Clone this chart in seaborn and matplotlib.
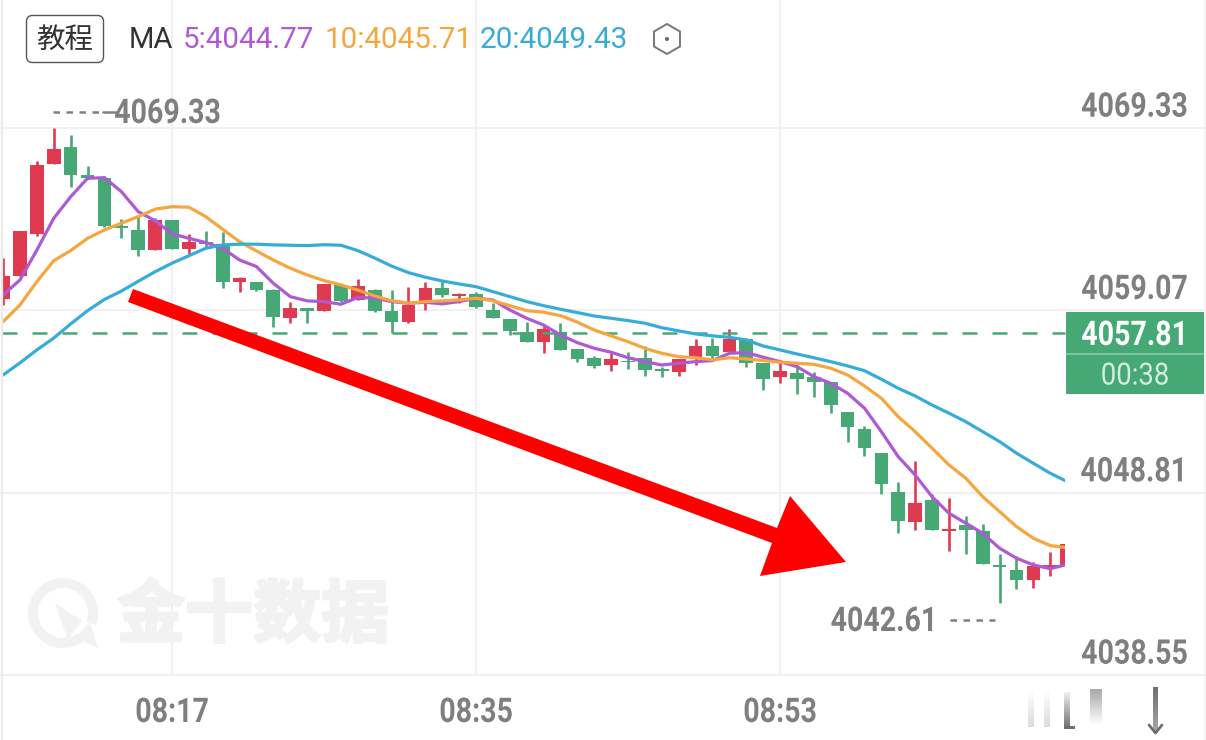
import numpy as np
import pandas as pd
import matplotlib
matplotlib.use("Agg")
import matplotlib.pyplot as plt
import seaborn as sns
from matplotlib.patches import Rectangle, FancyBboxPatch, Polygon, RegularPolygon, Wedge, Circle
from matplotlib.patheffects import AbstractPathEffect, withStroke
from matplotlib.transforms import Affine2D

# 1 minute candles, 08:07 to 09:10
opens = [4059.71, 4061.02, 4063.37, 4067.32, 4068.26, 4066.67, 4066.53, 4063.83, 4063.59, 4062.46,
         4064.15, 4062.50, 4062.90, 4062.80, 4060.65, 4060.68, 4060.21, 4058.66, 4059.18, 4059.02,
         4060.51, 4059.65, 4060.21, 4059.05, 4058.43, 4059.47, 4060.31, 4059.89, 4059.99, 4059.09,
         4058.58, 4057.87, 4057.30, 4057.87, 4056.89, 4056.37, 4055.99, 4056.24, 4056.37, 4055.75,
         4055.62, 4056.46, 4057.06, 4056.71, 4057.44, 4056.09, 4055.34, 4055.53, 4055.30, 4055.02,
         4053.37, 4052.39, 4051.03, 4048.85, 4047.16, 4048.40, 4046.64, 4046.99, 4046.64, 4044.72,
         4044.46, 4043.91, 4044.64, 4044.74]
closes = [4061.02, 4063.53, 4067.25, 4068.15, 4066.70, 4066.53, 4063.82, 4063.72, 4062.46, 4064.15,
          4062.52, 4062.92, 4062.82, 4060.68, 4060.89, 4060.21, 4058.69, 4059.20, 4059.05, 4060.55,
          4059.61, 4060.46, 4059.05, 4058.41, 4059.37, 4060.31, 4059.93, 4059.99, 4059.24, 4058.62,
          4057.91, 4057.30, 4058.00, 4056.84, 4056.35, 4055.95, 4056.35, 4056.16, 4055.71, 4055.66,
          4056.35, 4057.06, 4056.50, 4057.44, 4056.09, 4055.19, 4055.64, 4055.22, 4055.04, 4053.74,
          4052.51, 4051.34, 4049.31, 4047.23, 4048.21, 4046.71, 4046.77, 4046.71, 4044.78, 4044.61,
          4043.88, 4044.67, 4044.74, 4045.90]
highs = [4062.01, 4063.53, 4067.49, 4069.33, 4068.94, 4067.19, 4066.63, 4064.19, 4064.43, 4064.27,
         4064.15, 4063.37, 4063.53, 4063.49, 4060.95, 4060.68, 4060.27, 4059.54, 4059.18, 4060.55,
         4060.51, 4060.82, 4060.25, 4060.21, 4060.37, 4060.68, 4060.74, 4060.03, 4060.08, 4059.47,
         4058.58, 4058.40, 4058.24, 4058.34, 4056.89, 4056.52, 4056.65, 4056.74, 4057.08, 4055.86,
         4056.35, 4057.44, 4057.50, 4058.02, 4057.50, 4056.09, 4056.09, 4055.99, 4055.58, 4055.02,
         4053.37, 4052.54, 4051.03, 4049.41, 4050.61, 4048.74, 4048.49, 4047.50, 4047.03, 4045.38,
         4045.25, 4044.93, 4045.45, 4045.95]
lows = [4059.37, 4061.02, 4063.27, 4067.32, 4066.01, 4066.46, 4063.76, 4063.14, 4062.13, 4062.46,
        4062.52, 4062.24, 4062.65, 4060.33, 4060.12, 4060.16, 4058.15, 4058.37, 4058.37, 4059.02,
        4059.54, 4059.65, 4058.99, 4057.81, 4058.34, 4059.09, 4059.84, 4059.47, 4059.22, 4058.62,
        4057.67, 4057.30, 4056.69, 4056.84, 4056.15, 4055.84, 4055.66, 4055.75, 4055.39, 4055.30,
        4055.38, 4055.99, 4056.37, 4056.71, 4055.86, 4054.59, 4055.00, 4054.35, 4054.21, 4053.28,
        4051.68, 4050.89, 4048.74, 4046.54, 4046.71, 4046.71, 4045.54, 4045.38, 4044.78, 4042.61,
        4043.37, 4043.43, 4044.12, 4044.74]

ma5 = [4059.93, 4060.78, 4062.46, 4064.25, 4065.46, 4066.50, 4066.53, 4065.75, 4064.62, 4064.11,
       4063.37, 4063.12, 4062.88, 4062.56, 4061.90, 4061.53, 4060.59, 4059.84, 4059.60, 4059.56,
       4059.41, 4059.79, 4059.76, 4059.56, 4059.47, 4059.52, 4059.43, 4059.56, 4059.75, 4059.65,
       4059.09, 4058.62, 4058.24, 4057.68, 4057.25, 4056.93, 4056.71, 4056.40, 4056.18, 4055.99,
       4056.09, 4056.18, 4056.24, 4056.65, 4056.69, 4056.43, 4056.18, 4055.90, 4055.34, 4054.96,
       4054.40, 4053.56, 4052.24, 4050.83, 4049.80, 4048.58, 4047.65, 4047.09, 4046.52, 4045.68,
       4045.12, 4044.74, 4044.53, 4044.77]
ma10 = [4058.43, 4059.37, 4060.68, 4061.86, 4062.43, 4063.12, 4063.59, 4063.97, 4064.34, 4064.76,
        4064.90, 4064.87, 4064.34, 4063.63, 4062.93, 4062.41, 4061.90, 4061.44, 4061.06, 4060.74,
        4060.50, 4060.21, 4059.88, 4059.61, 4059.47, 4059.56, 4059.60, 4059.65, 4059.75, 4059.61,
        4059.33, 4059.05, 4058.96, 4058.77, 4058.40, 4057.96, 4057.63, 4057.30, 4056.93, 4056.65,
        4056.46, 4056.40, 4056.28, 4056.40, 4056.33, 4056.24, 4056.15, 4056.09, 4056.03, 4055.81,
        4055.43, 4054.81, 4054.12, 4053.08, 4052.24, 4051.31, 4050.37, 4049.62, 4048.58, 4047.74,
        4046.90, 4046.24, 4045.83, 4045.71]
ma20 = [4055.43, 4056.11, 4056.84, 4057.51, 4058.30, 4059.05, 4059.68, 4060.15, 4060.70, 4061.24,
        4061.72, 4062.14, 4062.56, 4062.75, 4062.79, 4062.79, 4062.75, 4062.73, 4062.71, 4062.76,
        4062.73, 4062.43, 4062.01, 4061.56, 4061.19, 4060.93, 4060.72, 4060.55, 4060.40, 4060.12,
        4059.84, 4059.56, 4059.33, 4059.13, 4058.94, 4058.75, 4058.62, 4058.49, 4058.34, 4058.09,
        4057.91, 4057.74, 4057.63, 4057.55, 4057.40, 4057.06, 4056.84, 4056.61, 4056.40, 4056.18,
        4055.94, 4055.67, 4055.19, 4054.68, 4054.25, 4053.74, 4053.28, 4052.80, 4052.24, 4051.68,
        4051.03, 4050.46, 4049.90, 4049.43]

price_ticks = [4069.33, 4059.07, 4048.81, 4038.55]
time_pos = [10, 28, 46]
time_labels = ["08:17", "08:35", "08:53"]
last_price = 4057.81
countdown = "00:38"
max_price = 4069.33
min_price = 4042.61

RED = "#e03a50"
GREEN = "#46a874"
GREY = "#7f7f7f"
GRID = "#f0f0f0"
PURPLE = "#ae5ad6"
ORANGE = "#f5a63e"
BLUE = "#38acd9"


class Squeeze(AbstractPathEffect):
    # narrows a label horizontally, the app font is a condensed one
    def __init__(self, sx, anchor="right"):
        super().__init__()
        self.sx = sx
        self.anchor = anchor

    def draw_path(self, renderer, gc, tpath, affine, rgbFace=None):
        ext = tpath.get_extents()
        xa = {"right": ext.x1, "left": ext.x0, "center": (ext.x0 + ext.x1) / 2}[self.anchor]
        t = Affine2D().translate(-xa, 0).scale(self.sx, 1).translate(xa, 0) + affine
        renderer.draw_path(gc, tpath, t, rgbFace)


sns.set_theme(style="white")
plt.rcParams["font.family"] = ["Roboto", "Noto Sans CJK SC", "DejaVu Sans"]
LABEL = dict(fontsize=24.5, color=GREY, fontweight="bold", va="center")

fig = plt.figure(figsize=(12.06, 7.4), dpi=100, facecolor="white")
ax = fig.add_axes([0, 0, 1, 1])
ax.set_xlim(-0.1835, 71.22)
ax.set_ylim(4034.89, 4076.53)
ax.axis("off")

# grid
for p in price_ticks:
    ax.axhline(p, color=GRID, lw=1.3, zorder=0)
for t in time_pos:
    ax.plot([t, t], [price_ticks[-1], ax.get_ylim()[1]], color=GRID, lw=1.3, zorder=0)

# candles
df = pd.DataFrame({"x": np.arange(len(opens)), "o": opens, "c": closes, "h": highs, "l": lows})
df["color"] = np.where(df["c"] >= df["o"], RED, GREEN)
wicks = ax.vlines(df["x"], df["l"], df["h"], colors=df["color"], lw=1.9, zorder=2)
bars = ax.bar(df["x"], (df["c"] - df["o"]).abs(), bottom=df[["o", "c"]].min(axis=1),
              width=0.81, color=df["color"], linewidth=0, zorder=2)

# moving averages
ma_df = pd.DataFrame({"x": np.tile(df["x"], 3),
                      "value": ma5 + ma10 + ma20,
                      "ma": ["5"] * 64 + ["10"] * 64 + ["20"] * 64})
sns.lineplot(data=ma_df, x="x", y="value", hue="ma", hue_order=["5", "10", "20"],
             palette={"5": PURPLE, "10": ORANGE, "20": BLUE}, estimator=None, sort=False,
             linewidth=2.3, legend=False, ax=ax, zorder=3)
ax.axis("off")
ax.set_xlim(-0.1835, 71.22)
ax.set_ylim(4034.89, 4076.53)

# candles and lines stop at the price box
clip = Rectangle((-0.04, 4030), 62.91, 60, transform=ax.transData)
wicks.set_clip_path(clip)
for b in bars:
    b.set_clip_path(clip)
for line in ax.lines:
    if len(line.get_xdata()) > 2:
        line.set_clip_path(clip)

ax.plot([-0.07, 62.87], [last_price, last_price], color=GREEN, lw=1.8, linestyle=(0, (6, 6)), zorder=2.5)

# price and time labels
for p in price_ticks:
    ax.annotate(f"{p:.2f}", xy=(1, p), xycoords=ax.get_yaxis_transform(), xytext=(-13, 14.6),
                textcoords="offset points", ha="right", path_effects=[Squeeze(0.84)], **LABEL)
for t, lab in zip(time_pos, time_labels):
    ax.text(t, 1 - 713 / 740, lab, transform=ax.get_xaxis_transform(), ha="center",
            path_effects=[Squeeze(0.84, "center")], **LABEL)

# overlay in screen pixels for the app chrome
ui = fig.add_axes([0, 0, 1, 1])
ui.set_xlim(0, 1206)
ui.set_ylim(740, 0)
ui.axis("off")
ui.patch.set_alpha(0)

ui.plot([1.5, 1.5], [0, 740], color="#ececec", lw=1.6)
ui.plot([1204.5, 1204.5], [0, 740], color="#f2f2f2", lw=1.2)

# high / low markers
ui.text(221, 114, f"{max_price:.2f}", ha="right", path_effects=[Squeeze(0.84)], **LABEL)
ui.plot([53, 103], [112, 112], color=GREY, lw=1.8, linestyle=(0, (2.6, 2.6)))
ui.plot([103, 116], [112, 112], color=GREY, lw=1.8)
ui.text(938, 622, f"{min_price:.2f}", ha="right", path_effects=[Squeeze(0.84)], **LABEL)
ui.plot([950, 995], [620, 620], color=GREY, lw=1.8, linestyle=(0, (2.6, 2.6)))

# header
ui.add_patch(FancyBboxPatch((26.5, 15.5), 77, 47, boxstyle="round,pad=0,rounding_size=6",
                            fc="white", ec="#555555", lw=1))
ui.text(65, 40, "教程", ha="center", va="center", fontsize=20.5, color="#333333",
        family=["Noto Sans CJK SC", "DejaVu Sans"])
ui.text(129, 39.5, "MA", ha="left", va="center", fontsize=21, color="#333333")
ui.text(182.5, 39.5, "5:4044.77", ha="left", va="center", fontsize=21.3, color=PURPLE)
ui.text(324.5, 39.5, "10:4045.71", ha="left", va="center", fontsize=21.3, color=ORANGE)
ui.text(480, 39.5, "20:4049.43", ha="left", va="center", fontsize=21.4, color=BLUE)
ui.add_patch(RegularPolygon((667, 39), 6, radius=15, fc="white", ec="#777777", lw=1.4))
ui.add_patch(Circle((667, 39), 2, fc="#666666", ec="none"))

# last price box
ui.add_patch(Rectangle((1066, 312), 138, 82, fc=GREEN, ec="none"))
ui.add_patch(Rectangle((1066, 353), 138, 1.5, fc="#7cc39e", ec="none"))
ui.text(1135, 336, f"{last_price:.2f}", ha="center", va="center", fontsize=24.5, color="white",
        fontweight="bold", path_effects=[Squeeze(0.84, "center")])
ui.text(1135, 376, countdown, ha="center", va="center", fontsize=22, color="#d6ece0",
        path_effects=[Squeeze(0.9, "center")])

# hand drawn arrow
ui.add_patch(Polygon([(133, 289), (777, 528), (790, 496), (846, 562), (760, 576), (772, 543), (128, 302)],
                     fc="#ff0000", ec="none", zorder=5))

# watermark
mark = "#f2f2f2"
ui.add_patch(Wedge((63, 613), 35, 55, 20, width=10, fc=mark, ec="none", zorder=0.5))
ui.add_patch(Polygon([(55, 603), (82, 621), (72, 634), (68, 640)], fc=mark, ec="none", zorder=0.5))
ui.add_patch(Polygon([(98, 648), (76, 637), (90, 622)], fc=mark, ec="none", zorder=0.5))
ui.text(253, 617, "金十数据", ha="center", va="center", fontsize=49, color=mark, fontweight="bold",
        family=["Noto Sans CJK SC", "DejaVu Sans"], zorder=0.5,
        path_effects=[withStroke(linewidth=2, foreground=mark)])


def fade(x0, x1, y0, y1, top, bottom, grey=110):
    # vertical fade strip for the blurred nav bar at the bottom
    img = np.zeros((64, 1, 4))
    img[..., :3] = grey / 255
    img[:, 0, 3] = np.linspace(top, bottom, 64)
    ui.imshow(img, extent=(x0, x1, y1, y0), aspect="auto", interpolation="bilinear", zorder=1)


fade(1028, 1034, 690, 727, 0.0, 0.25)
fade(1044, 1050, 690, 727, 0.0, 0.25)
fade(1064, 1070, 692, 728, 0.1, 1.0)
fade(1064, 1075, 726, 729, 1.0, 1.0)
fade(1090, 1102, 689, 725, 0.6, 0.0)
fade(1153, 1158, 687, 733, 1.0, 0.6)
ui.plot([1149, 1155.5, 1162], [725, 733, 725], color="#6e6e6e", lw=2)
ui.set_xlim(0, 1206)
ui.set_ylim(740, 0)

fig.savefig("out.png", dpi=100, facecolor="white")
